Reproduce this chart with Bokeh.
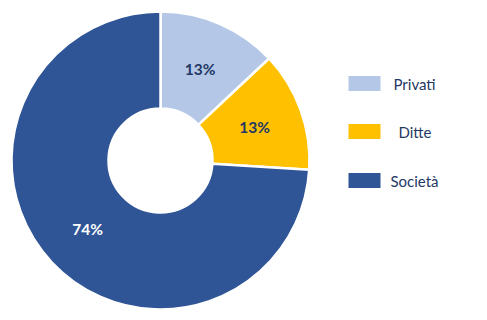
import math
from bokeh.plotting import figure
from bokeh.models import Range1d, ColumnDataSource
from bokeh.core.properties import value
from bokeh.embed import file_html
from bokeh.resources import INLINE

categories = ["Privati", "Ditte", "Società"]
shares = [13, 13, 74]
colors = ["#B4C7E7", "#FFC000", "#2F5597"]
label_colors = ["#1F3864", "#1F3864", "#FFFFFF"]

W, H = 487, 320
cx, cy = 160, H - 160
r_out, r_in = 149, 52

total = sum(shares)
starts, ends, lx, ly, texts = [], [], [], [], []
acc = 0.0
for s in shares:
    a0 = math.pi / 2 - 2 * math.pi * acc / total
    acc += s
    a1 = math.pi / 2 - 2 * math.pi * acc / total
    starts.append(a0)
    ends.append(a1)
    mid = (a0 + a1) / 2
    lx.append(cx + 100 * math.cos(mid))
    ly.append(cy + 100 * math.sin(mid))
    texts.append(f"{s}%")

p = figure(width=W, height=H, output_backend="svg", toolbar_location=None,
           x_range=Range1d(0, W), y_range=Range1d(0, H), min_border=0)
p.axis.visible = False
p.grid.visible = False
p.outline_line_color = None
p.background_fill_color = "white"

src = ColumnDataSource(dict(start=starts, end=ends, color=colors))
p.annular_wedge(x=cx, y=cy, inner_radius=r_in, outer_radius=r_out,
                start_angle="start", end_angle="end", direction="clock",
                fill_color="color", line_color="white", line_width=2.5, source=src)

p.text(x=lx, y=ly, text=texts, text_color=label_colors,
       text_font=value("Lato"), text_font_style="bold", text_font_size="15.5px",
       text_align="center", text_baseline="middle")

# legend
leg_y = [H - 83, H - 131, H - 180]
leg_tx = [393, 398, 390]
p.rect(x=[364] * 3, y=leg_y, width=32, height=15, fill_color=colors, line_color=None)
p.text(x=leg_tx, y=leg_y, text=categories, text_color="#1F3864",
       text_font=value("Lato"), text_font_size="15px",
       text_align="left", text_baseline="middle")

open("out.html", "w").write(file_html(p, INLINE))
